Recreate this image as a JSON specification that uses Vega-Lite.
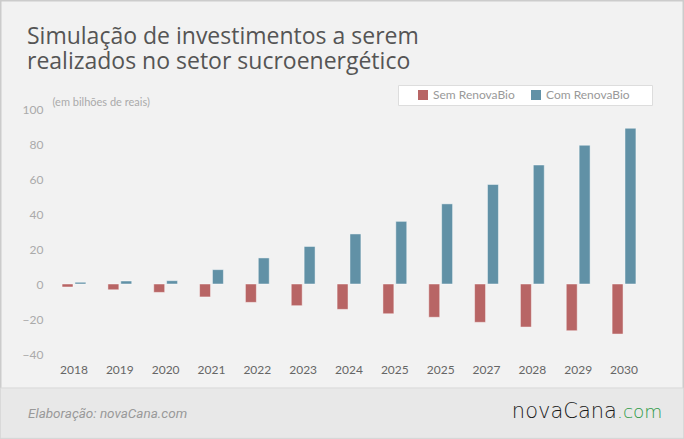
{
  "$schema": "https://vega.github.io/schema/vega-lite/v6.json",
  "autosize": {"type": "none"},
  "width": 600,
  "height": 245,
  "padding": {"left": 49, "top": 109, "right": 35, "bottom": 85},
  "background": "#f2f2f2",
  "config": {
    "view": {"stroke": null},
    "font": "Lato",
    "axisY": {
      "tickCount": 8,
      "labelOverlap": false,
      "domain": false,
      "ticks": false,
      "gridColor": "#e6e6e6",
      "gridWidth": 1,
      "labelColor": "#aaaaaa",
      "labelFont": "Lato",
      "labelFontSize": 12,
      "labelPadding": 6,
      "titleAngle": 0,
      "titleAlign": "left",
      "titleBaseline": "alphabetic",
      "titleX": 3,
      "titleY": -4,
      "titleFont": "Lato",
      "titleFontSize": 11,
      "titleFontWeight": "normal",
      "titleColor": "#aaaaaa"
    }
  },
  "title": {
    "text": ["Simulação de investimentos a serem", "realizados no setor sucroenergético"],
    "anchor": "start",
    "frame": "group",
    "dx": -22,
    "offset": -74,
    "font": "Open Sans",
    "fontSize": 23,
    "fontWeight": "normal",
    "color": "#555555",
    "lineHeight": 25
  },
  "resolve": {"scale": {"x": "independent"}},
  "layer": [
    {
      "data": {"values": [{"item": "borda"}]},
      "mark": {"type": "rect", "fill": null, "fillOpacity": 0, "stroke": "#cccccc", "strokeWidth": 1.5, "clip": false},
      "encoding": {
        "x": {"datum": 0.75, "type": "quantitative", "scale": {"domain": [0, 684], "range": [-49, 635]}, "axis": null},
        "x2": {"datum": 683.25},
        "y": {"datum": 161.9, "type": "quantitative", "scale": {"domain": [-40, 100], "nice": false, "zero": false}, "title": "(em bilhões de reais)"},
        "y2": {"datum": -88.2}
      }
    },
    {
      "data": {"values": [{"item": "rodape"}]},
      "mark": {"type": "rect", "fill": "#e8e8e8", "stroke": "#d9d9d9", "strokeWidth": 1, "clip": false},
      "encoding": {
        "x": {"datum": 0.5, "type": "quantitative", "scale": {"domain": [0, 684], "range": [-49, 635]}, "axis": null},
        "x2": {"datum": 683.5},
        "y": {"datum": -59.4, "type": "quantitative", "scale": {"domain": [-40, 100], "nice": false, "zero": false}, "title": "(em bilhões de reais)"},
        "y2": {"datum": -88.2}
      }
    },
    {
      "data": {"values": [{"texto": "Elaboração: novaCana.com"}]},
      "mark": {"type": "text", "align": "left", "baseline": "alphabetic", "font": "Roboto", "fontStyle": "italic", "fontSize": 13.5, "color": "#999999", "clip": false},
      "encoding": {
        "x": {"datum": 28, "type": "quantitative", "scale": {"domain": [0, 684], "range": [-49, 635]}, "axis": null},
        "y": {"datum": -76.6, "type": "quantitative", "scale": {"domain": [-40, 100], "nice": false, "zero": false}, "title": "(em bilhões de reais)"},
        "text": {"field": "texto"}
      }
    },
    {
      "data": {"values": [{"texto": "novaCana"}]},
      "mark": {"type": "text", "align": "right", "baseline": "alphabetic", "font": "DejaVu Sans", "fontWeight": 200, "fontSize": 21, "color": "#1a1a1a", "clip": false},
      "encoding": {
        "x": {"datum": 617, "type": "quantitative", "scale": {"domain": [0, 684], "range": [-49, 635]}, "axis": null},
        "y": {"datum": -76.6, "type": "quantitative", "scale": {"domain": [-40, 100], "nice": false, "zero": false}, "title": "(em bilhões de reais)"},
        "text": {"field": "texto"}
      }
    },
    {
      "data": {"values": [{"texto": ".com"}]},
      "mark": {"type": "text", "align": "left", "baseline": "alphabetic", "font": "DejaVu Sans", "fontWeight": 200, "fontSize": 18.5, "color": "#2e9a47", "clip": false},
      "encoding": {
        "x": {"datum": 617, "type": "quantitative", "scale": {"domain": [0, 684], "range": [-49, 635]}, "axis": null},
        "y": {"datum": -76.6, "type": "quantitative", "scale": {"domain": [-40, 100], "nice": false, "zero": false}, "title": "(em bilhões de reais)"},
        "text": {"field": "texto"}
      }
    },
    {
      "data": {
        "values": [
          {"ano": "2018", "serie": "Sem RenovaBio", "valor": -1.7},
          {"ano": "2018", "serie": "Com RenovaBio", "valor": 1.0},
          {"ano": "2019", "serie": "Sem RenovaBio", "valor": -3.3},
          {"ano": "2019", "serie": "Com RenovaBio", "valor": 1.7},
          {"ano": "2020", "serie": "Sem RenovaBio", "valor": -4.8},
          {"ano": "2020", "serie": "Com RenovaBio", "valor": 1.9},
          {"ano": "2021", "serie": "Sem RenovaBio", "valor": -7.4},
          {"ano": "2021", "serie": "Com RenovaBio", "valor": 8.2},
          {"ano": "2022", "serie": "Sem RenovaBio", "valor": -10.5},
          {"ano": "2022", "serie": "Com RenovaBio", "valor": 14.9},
          {"ano": "2023", "serie": "Sem RenovaBio", "valor": -12.4},
          {"ano": "2023", "serie": "Com RenovaBio", "valor": 21.5},
          {"ano": "2024", "serie": "Sem RenovaBio", "valor": -14.5},
          {"ano": "2024", "serie": "Com RenovaBio", "valor": 28.6},
          {"ano": "2025", "serie": "Sem RenovaBio", "valor": -17.0},
          {"ano": "2025", "serie": "Com RenovaBio", "valor": 35.8},
          {"ano": "2026", "serie": "Sem RenovaBio", "valor": -19.0},
          {"ano": "2026", "serie": "Com RenovaBio", "valor": 45.8},
          {"ano": "2027", "serie": "Sem RenovaBio", "valor": -21.9},
          {"ano": "2027", "serie": "Com RenovaBio", "valor": 56.9},
          {"ano": "2028", "serie": "Sem RenovaBio", "valor": -24.6},
          {"ano": "2028", "serie": "Com RenovaBio", "valor": 68.0},
          {"ano": "2029", "serie": "Sem RenovaBio", "valor": -26.7},
          {"ano": "2029", "serie": "Com RenovaBio", "valor": 79.3},
          {"ano": "2030", "serie": "Sem RenovaBio", "valor": -28.6},
          {"ano": "2030", "serie": "Com RenovaBio", "valor": 89.0}
        ]
      },
      "mark": {"type": "bar", "stroke": "#ffffff", "strokeOpacity": 0.45, "strokeWidth": 1},
      "encoding": {
        "x": {
          "field": "ano",
          "type": "ordinal",
          "scale": {"paddingInner": 0.48, "paddingOuter": 0.285},
          "axis": {
            "title": null,
            "labelAngle": 0,
            "labelExpr": "datum.value == '2026' ? '2025' : datum.label",
            "domain": false,
            "ticks": false,
            "grid": false,
            "labelColor": "#666666",
            "labelFont": "Lato",
            "labelFontSize": 12,
            "labelPadding": 10
          }
        },
        "xOffset": {
          "field": "serie",
          "type": "nominal",
          "sort": ["Sem RenovaBio", "Com RenovaBio"],
          "scale": {"paddingInner": 0.15}
        },
        "y": {
          "field": "valor",
          "type": "quantitative",
          "scale": {"domain": [-40, 100], "nice": false, "zero": false},
          "title": "(em bilhões de reais)"
        },
        "color": {
          "field": "serie",
          "type": "nominal",
          "sort": ["Sem RenovaBio", "Com RenovaBio"],
          "scale": {"domain": ["Sem RenovaBio", "Com RenovaBio"], "range": ["#b86565", "#6191a6"]},
          "legend": {
            "title": "\u00a0",
            "titleOrient": "right",
            "titlePadding": 18,
            "titleFontSize": 4,
            "orient": "none",
            "direction": "horizontal",
            "legendX": 349,
            "legendY": -24,
            "symbolOffset": 15,
            "symbolType": "square",
            "symbolSize": 100,
            "symbolStrokeWidth": 0,
            "labelFont": "Lato",
            "labelFontSize": 12,
            "labelColor": "#999999",
            "labelOffset": 4,
            "columnPadding": -3,
            "padding": 4,
            "fillColor": "#ffffff",
            "strokeColor": "#dddddd"
          }
        }
      }
    }
  ]
}
